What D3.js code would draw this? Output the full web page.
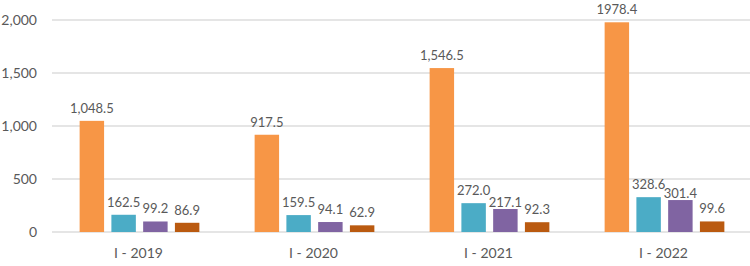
<!DOCTYPE html>
<html lang="en">
<head>
    <meta charset="utf-8">
    <title>Grouped bars</title>
    <script src="https://d3js.org/d3.v7.min.js"></script>
    <style>
        body {
            margin: 0;
            background: white;
            font-family: Lato, "Open Sans", sans-serif;
        }
        .tick text, .cat, .val {
            fill: #595959;
        }
    </style>
</head>
<body>
<script>

    var w = 750;
    var h = 266;

    var categories = ["I - 2019", "I - 2020", "I - 2021", "I - 2022"];

    // four series per category
    var seriesA = [1048.5, 917.5, 1546.5, 1978.4];
    var seriesB = [162.5, 159.5, 272.0, 328.6];
    var seriesC = [99.2, 94.1, 217.1, 301.4];
    var seriesD = [86.9, 62.9, 92.3, 99.6];

    // the orange labels as printed (last one has no thousands comma)
    var seriesALabels = ["1,048.5", "917.5", "1,546.5", "1978.4"];

    var yTicks = [0, 500, 1000, 1500, 2000];

    var colors = ["#F79646", "#4BACC6", "#8064A2", "#BA5A10"];

    var series = [seriesA, seriesB, seriesC, seriesD];

    //scales
    var x0 = d3.scaleBand()
        .domain(categories)
        .range([52, 752])
        .padding(0);

    var x1 = d3.scaleBand()
        .domain(d3.range(series.length))
        .range([0, x0.bandwidth()])
        .paddingInner(0.23)
        .paddingOuter(0.87);

    var yScale = d3.scaleLinear()
        .domain([0, 2000])
        .range([232, 20]);

    var svg = d3.select("body")
        .append("svg")
        .attr("width", w)
        .attr("height", h);

    //gridlines
    svg.append("g")
        .selectAll("line")
        .data(yTicks)
        .enter()
        .append("line")
        .attr("x1", 52)
        .attr("x2", w)
        .attr("y1", function(d) { return yScale(d); })
        .attr("y2", function(d) { return yScale(d); })
        .attr("stroke", "#DCDCDC")
        .attr("stroke-width", 1.3);

    //y axis labels only
    var yAxis = d3.axisLeft(yScale)
        .tickValues(yTicks)
        .tickFormat(d3.format(","))
        .tickSize(0)
        .tickPadding(0);

    svg.append("g")
        .attr("transform", "translate(37,0)")
        .call(yAxis)
        .call(function(g) { g.select(".domain").remove(); })
        .selectAll("text")
        .attr("font-family", "Lato, 'Open Sans', sans-serif")
        .attr("font-size", "14px");

    //bars, one group per category
    var rows = categories.map(function(c, i) {
        return series.map(function(s, k) {
            return {cat: c, k: k, value: s[i], label: k === 0 ? seriesALabels[i] : d3.format(".1f")(s[i])};
        });
    });

    //labels of neighbouring short bars crowd each other when both bars are tall-ish;
    //excel then sets the lower one right on its bar
    rows.forEach(function(r) {
        for (var k = 2; k < r.length; k++) {
            var prev = r[k - 1], cur = r[k];
            cur.tight = (prev.value - cur.value) < 60 && cur.value > 150;
        }
    });

    var groups = svg.selectAll(".grp")
        .data(rows)
        .enter()
        .append("g")
        .attr("class", "grp")
        .attr("transform", function(d, i) { return "translate(" + x0(categories[i]) + ",0)"; });

    groups.selectAll("rect")
        .data(function(d) { return d; })
        .enter()
        .append("rect")
        .attr("x", function(d) { return x1(d.k); })
        .attr("y", function(d) { return yScale(d.value); })
        .attr("width", x1.bandwidth())
        .attr("height", function(d) { return yScale(0) - yScale(d.value); })
        .attr("fill", function(d) { return colors[d.k]; });

    //value labels
    groups.selectAll(".val")
        .data(function(d) { return d; })
        .enter()
        .append("text")
        .attr("class", "val")
        .attr("x", function(d) { return x1(d.k) + x1.bandwidth() / 2; })
        .attr("y", function(d) { return yScale(d.value) - (d.tight ? 2 : 8); })
        .attr("text-anchor", "middle")
        .attr("font-size", "13px")
        .text(function(d) { return d.label; });

    //category labels
    svg.selectAll(".cat")
        .data(categories)
        .enter()
        .append("text")
        .attr("class", "cat")
        .attr("x", function(d) { return x0(d) + x0.bandwidth() / 2 - 1; })
        .attr("y", 258)
        .attr("text-anchor", "middle")
        .attr("font-size", "14px")
        .text(function(d) { return d; });

</script>
</body>
</html>
